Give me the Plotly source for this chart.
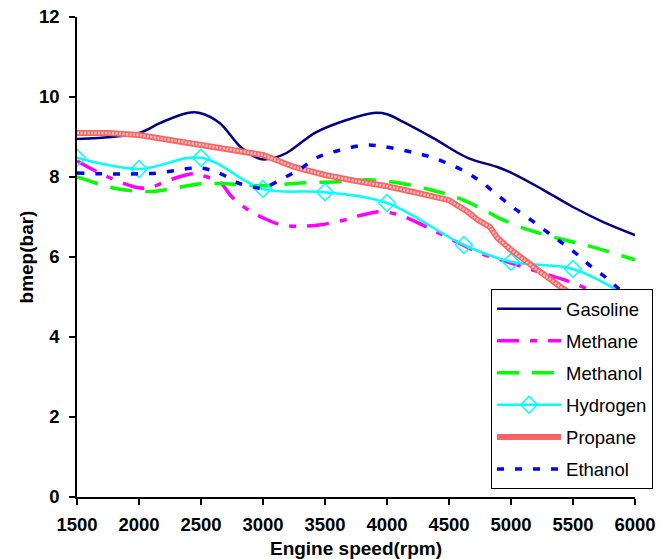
import plotly.graph_objects as go

# ---- data ----
gas_x = [1500, 2000, 2170, 2390, 2490, 2650, 2820, 2980, 3080, 3190, 3430, 3680, 3890, 4000, 4130, 4370, 4650, 4890, 5020, 5260, 5500, 5740, 6000]
gas_y = [8.95, 9.1, 9.35, 9.6, 9.6, 9.35, 8.75, 8.45, 8.47, 8.6, 9.12, 9.43, 9.6, 9.57, 9.38, 8.98, 8.48, 8.25, 8.08, 7.68, 7.25, 6.88, 6.55]

meth_x = [1500, 1750, 2000, 2100, 2150, 2300, 2450, 2550, 2650, 2750, 2870, 3000, 3150, 3300, 3450, 3650, 3800, 3950, 4100, 4300, 4500, 4750, 5000, 5250, 5500, 5750, 6000]
meth_y = [8.4, 8.0, 7.73, 7.73, 7.8, 7.98, 8.08, 8.0, 7.88, 7.5, 7.2, 6.98, 6.8, 6.77, 6.8, 6.92, 7.05, 7.13, 7.05, 6.78, 6.47, 6.1, 5.85, 5.6, 5.35, 5.0, 4.6]

mol_x = [1500, 1650, 1800, 2000, 2150, 2300, 2500, 2700, 3000, 3300, 3600, 3850, 4100, 4350, 4550, 4750, 4900, 5150, 5400, 5600, 6000]
mol_y = [8.0, 7.85, 7.72, 7.64, 7.65, 7.73, 7.83, 7.83, 7.78, 7.85, 7.88, 7.93, 7.85, 7.68, 7.5, 7.23, 6.98, 6.67, 6.45, 6.3, 5.93]

hyd_x = [1500, 2000, 2500, 3000, 3500, 4000, 4620, 5000, 5500, 6000]
hyd_y = [8.48, 8.2, 8.48, 7.7, 7.62, 7.35, 6.3, 5.88, 5.7, 4.9]

prop_x = [1500, 1750, 2000, 2250, 2500, 2750, 3000, 3250, 3500, 3750, 4000, 4250, 4500, 4650, 4730, 4830, 4890, 5000, 5200, 5400, 5500, 5750, 6000]
prop_y = [9.1, 9.1, 9.05, 8.93, 8.8, 8.68, 8.55, 8.25, 8.05, 7.9, 7.77, 7.6, 7.42, 7.13, 6.93, 6.75, 6.48, 6.18, 5.7, 5.25, 5.05, 4.6, 4.1]

eth_x = [1500, 1700, 2000, 2150, 2330, 2475, 2570, 2680, 2800, 2950, 3000, 3150, 3300, 3430, 3540, 3680, 3840, 3970, 4160, 4320, 4480, 4650, 4770, 4910, 5020, 5150, 5290, 5400, 5520, 5640, 5760, 5860, 6000]
eth_y = [8.1, 8.08, 8.08, 8.1, 8.18, 8.23, 8.18, 8.05, 7.85, 7.73, 7.72, 7.95, 8.2, 8.48, 8.6, 8.72, 8.8, 8.76, 8.65, 8.53, 8.35, 8.1, 7.85, 7.5, 7.23, 6.95, 6.63, 6.38, 6.1, 5.78, 5.5, 5.23, 4.9]

x_ticks = [1500, 2000, 2500, 3000, 3500, 4000, 4500, 5000, 5500, 6000]
y_ticks = [0, 2, 4, 6, 8, 10, 12]

FONT = "Liberation Sans, Arial, sans-serif"

fig = go.Figure()
fig.add_trace(go.Scatter(x=gas_x, y=gas_y, name="Gasoline", mode="lines",
                         line=dict(color="#000080", width=2.5, shape="spline"),
                         legendgroup="a"))
fig.add_trace(go.Scatter(x=meth_x, y=meth_y, name="Methane", mode="lines",
                         line=dict(color="#FF00FF", width=3.5, shape="spline", dash="22px,11px,7px,11px"),
                         legendgroup="b"))
fig.add_trace(go.Scatter(x=mol_x, y=mol_y, name="Methanol", mode="lines",
                         line=dict(color="#00FF00", width=3.5, shape="spline", dash="22px,13px"),
                         legendgroup="c"))
fig.add_trace(go.Scatter(x=hyd_x, y=hyd_y, name="Hydrogen", mode="lines+markers",
                         line=dict(color="#00FFFF", width=2.5, shape="spline"),
                         marker=dict(symbol="diamond-open", size=13, color="#00FFFF", line=dict(width=1.5, color="#00FFFF")),
                         legendgroup="d"))
fig.add_trace(go.Scatter(x=prop_x, y=prop_y, name="Propane", mode="lines",
                         line=dict(color="#FF6464", width=6),
                         legendgroup="e"))
fig.add_trace(go.Scatter(x=prop_x, y=prop_y, name="Propane", mode="lines", showlegend=False,
                         line=dict(color="#FFC8C8", width=2.5, dash="2px,1.5px"),
                         legendgroup="e", hoverinfo="skip"))
fig.add_trace(go.Scatter(x=eth_x, y=eth_y, name="Ethanol", mode="lines",
                         line=dict(color="#0000FF", width=3.5, shape="spline", dash="7px,11px"),
                         legendgroup="f"))

fig.update_layout(
    width=670, height=559,
    margin=dict(l=77, r=35, t=17, b=62),
    paper_bgcolor="white", plot_bgcolor="white",
    font=dict(family=FONT, color="black"),
    showlegend=True,
    legend=dict(
        x=0.742, y=0.433, xanchor="left", yanchor="top",
        bgcolor="white", bordercolor="black", borderwidth=1,
        font=dict(family=FONT, size=18.5, color="black"),
        traceorder="grouped", tracegroupgap=5,
        itemwidth=64,
    ),
    xaxis=dict(
        range=[1500, 6000], tickvals=x_ticks, ticktext=[str(v) for v in x_ticks],
        showgrid=False, zeroline=False, showline=True, linecolor="black", linewidth=1.5,
        ticks="outside", ticklen=6, tickcolor="black", tickwidth=1.5,
        tickfont=dict(family=FONT, size=18.5, color="black", weight="bold"),
        ticklabelstandoff=4, automargin=False,
        title=dict(text="<b>Engine speed(rpm)</b>", font=dict(family=FONT, size=19)),
    ),
    yaxis=dict(
        range=[0, 12], tickvals=y_ticks,
        showgrid=False, zeroline=False, showline=True, linecolor="black", linewidth=1.5,
        ticks="outside", ticklen=6, tickcolor="black", tickwidth=1.5,
        tickfont=dict(family=FONT, size=18.5, color="black", weight="bold"),
        ticklabelstandoff=6, automargin=False,
        title=dict(text="<b>bmep(bar)</b>", font=dict(family=FONT, size=19), standoff=0),
    ),
)

fig.write_html("out.html")
